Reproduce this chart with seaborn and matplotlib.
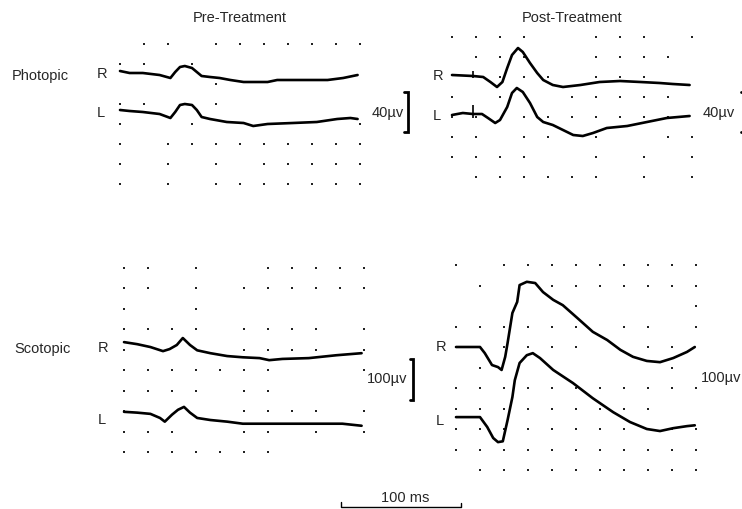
import matplotlib
matplotlib.use("Agg")
import matplotlib.pyplot as plt
import numpy as np
import pandas as pd
import seaborn as sns

# ---- data: ERG traces, time in ms, amplitude in µV relative to pre-stimulus baseline ----
pre_phot_r_t = [0, 8, 19, 33, 42, 46, 50, 54, 60, 64, 68, 75, 83, 92, 103, 111, 123, 131, 144, 158, 173, 186, 198]
pre_phot_r_uv = [0, -2, -2, -4, -7, -1, 4, 5, 3, -1, -5, -6, -7, -9, -11, -11, -11, -9, -9, -9, -9, -7, -4]
pre_phot_l_t = [0, 8, 19, 33, 42, 46, 50, 54, 60, 64, 68, 75, 89, 103, 111, 123, 144, 164, 181, 192, 198]
pre_phot_l_uv = [0, -1, -2, -4, -8, -2, 5, 6, 5, 0, -7, -9, -12, -13, -16, -14, -13, -12, -9, -8, -9]

post_phot_r_t = [0, 17.5, 26, 32, 37.5, 42, 46, 50, 55, 59, 65, 71, 76, 84, 92.5, 107, 123, 140, 157, 173, 184, 198]
post_phot_r_uv = [0, -1, -2, -7, -12, -7, 7, 20, 27, 23, 12, 2, -5, -10, -12, -10, -7, -6, -7, -8, -9, -10]
post_phot_l_t = [0, 9, 17.5, 25, 30, 36, 40, 46, 50, 54, 59, 65, 71, 76, 84, 92.5, 101, 109, 117.5, 129, 146, 162.5, 179, 198]
post_phot_l_uv = [0, 2, 1, 1, -3, -8, -5, 8, 22, 27, 23, 12, -2, -7, -10, -15, -20, -21, -18, -13, -11, -7, -3, -1]

pre_scot_r_t = [0, 11, 22, 32.5, 38, 44, 49, 55, 61, 72, 86, 99, 113, 121, 132, 154, 177, 198]
pre_scot_r_uv = [0, -5, -12, -22, -17, -7, 10, -7, -20, -27, -34, -37, -39, -44, -41, -39, -32, -27]
pre_scot_l_t = [0, 11, 22, 30, 34, 40, 45, 50, 55, 61, 72, 86, 99, 127, 155, 182, 198]
pre_scot_l_uv = [0, -2, -5, -15, -24, -7, 5, 12, -2, -15, -20, -24, -29, -29, -29, -29, -34]

post_scot_r_t = [0, 20, 24, 30, 35, 38, 41, 43, 47, 51, 53, 59, 66, 72.5, 81, 89, 101, 114, 126, 137, 147.5, 159, 170, 181, 192.5, 199]
post_scot_r_uv = [0, 0, -15, -44, -49, -56, -24, 10, 83, 110, 151, 159, 156, 134, 115, 102, 71, 37, 17, -7, -24, -34, -37, -27, -12, 0]
post_scot_l_t = [0, 20, 26, 31, 35, 39, 43, 47, 49, 53, 59, 64, 70, 81, 97.5, 114, 131, 145, 159, 170, 181, 192.5, 199]
post_scot_l_uv = [0, 0, -24, -51, -61, -59, -7, 49, 90, 132, 151, 156, 144, 115, 83, 46, 12, -12, -29, -34, -27, -22, -20]

# dot grid of the recorder paper (x = present), top row first
pre_phot_dots = [".xx.xxxxxxx", "xx.x.......", "....x......", "xx..x......",
                 "x..x......x", "x.xxxxxxxxx", "x.x.x.xxxxx", "x.x.xxxxxxx"]
post_phot_dots = ["xxxx..xxx.x", ".xxx..xxxx.", "..xxx.xxx..", "x.x..xxxxx.",
                  "xx.xxxxxxx.", "xx.xx.x..xx", "xxxx..x.x.x", ".xxxxxx.x.x"]
pre_scot_dots = ["xx.x..xxxxx", "xx.x.xxxxxx", "x..x.......", "xxxx.xxxx.x", "x....xxxx.x",
                 "xxxxxxx...x", "xxxx.xx....", "x....xxxx.x", "xxx..xx.x.x", "xxxxxxx...."]
post_scot_dots = ["x.xxxxxxxxx", ".x..xxxxxxx", "..........x", "xxxxxx.xx.x", "..xxxx..xx.",
                  ".x.......x.", "xxxxxxxxxxx", "xxxxxxxxx..", "xxxxxxxxxxx", "xxxxxxxxxxx",
                  ".xxxxxxxxxx"]

phot_scale_uv = 40
scot_scale_uv = 100
time_scale_ms = 100

# ---- layout (pixels of the 742x509 output) ----
W, H = 742, 509
PX_MS = 1.2
XLIM = (-15, 215)
GRID_MS = 20

sns.set_style("white")
plt.rcParams["font.family"] = ["Liberation Sans", "DejaVu Sans"]
FS = 10.5


def fxy(x, y):
    return x / W, 1 - y / H


def make_panel(fig, x0, y0, uv_px, step, dots, traces, offsets):
    nrows = len(dots)
    pad = 12
    top_uv = (nrows - 1) * step
    left = (x0 + XLIM[0] * PX_MS) / W
    width = (XLIM[1] - XLIM[0]) * PX_MS / W
    bottom = 1 - (y0 + pad) / H
    height = (top_uv * uv_px + 2 * pad) / H
    ax = fig.add_axes([left, bottom, width, height])
    ax.set_xlim(XLIM)
    ax.set_ylim(-pad / uv_px, top_uv + pad / uv_px)
    ax.axis("off")

    pts = [(c * GRID_MS, (nrows - 1 - r) * step)
           for r, row in enumerate(dots) for c, ch in enumerate(row) if ch == "x"]
    grid = pd.DataFrame(pts, columns=["t", "uv"])
    sns.scatterplot(data=grid, x="t", y="uv", ax=ax, marker="s", s=3.5,
                    color="#222222", linewidth=0, legend=False)

    for (t, uv), off in zip(traces, offsets):
        sns.lineplot(x=np.array(t), y=np.array(uv) + off, ax=ax, color="black",
                     lw=1.9, estimator=None, sort=False)
    return ax


fig = plt.figure(figsize=(W / 100, H / 100), dpi=100)

ax_pp = make_panel(fig, 120, 184, 1.0, 20, pre_phot_dots,
                   [(pre_phot_r_t, pre_phot_r_uv), (pre_phot_l_t, pre_phot_l_uv)], [113, 74])
ax_qp = make_panel(fig, 452, 177, 1.0, 20, post_phot_dots,
                   [(post_phot_r_t, post_phot_r_uv), (post_phot_l_t, post_phot_l_uv)], [102, 62])
ax_ps = make_panel(fig, 124, 452, 0.41, 50, pre_scot_dots,
                   [(pre_scot_r_t, pre_scot_r_uv), (pre_scot_l_t, pre_scot_l_uv)], [268, 98])
ax_qs = make_panel(fig, 456, 470, 0.41, 50, post_scot_dots,
                   [(post_scot_r_t, post_scot_r_uv), (post_scot_l_t, post_scot_l_uv)], [300, 129])

# stimulus markers on post-treatment photopic traces
ax_qp.vlines(17.5, 102 - 3, 102 + 4, color="black", lw=1.2)
ax_qp.vlines(17.5, 62 - 3, 62 + 10, color="black", lw=1.2)


def bracket(ax, t, lo, span, serif, right=True):
    sx = t - serif if right else t + serif
    ax.plot([sx, t, t, sx], [lo, lo, lo + span, lo + span], color="black",
            lw=2.0, clip_on=False, solid_joinstyle="miter")


# amplitude calibration brackets
bracket(ax_pp, 240, 52, phot_scale_uv, 3)
bracket(ax_qp, 245, 45, phot_scale_uv, 4)
bracket(ax_ps, 241, 127, scot_scale_uv, 3)
bracket(ax_qs, 245, 171, scot_scale_uv, 4)

# time calibration bar
tb0 = 181
ax_ps.plot([tb0, tb0, tb0 + time_scale_ms, tb0 + time_scale_ms],
           [-122, -134, -134, -124], color="black", lw=1.0, clip_on=False)

# ---- text ----
fig.text(*fxy(240, 18), "Pre-Treatment", ha="center", va="center", fontsize=FS)
fig.text(*fxy(572, 18), "Post-Treatment", ha="center", va="center", fontsize=FS)
fig.text(*fxy(12, 76), "Photopic", ha="left", va="center", fontsize=FS)
fig.text(*fxy(14, 349), "Scotopic", ha="left", va="center", fontsize=FS)

for x, y, s in [(107, 74, "R"), (105, 113, "L"), (443, 76, "R"), (441, 116, "L"),
                (108, 348, "R"), (106, 420, "L"), (446, 347, "R"), (444, 421, "L")]:
    fig.text(*fxy(x, y), s, ha="right", va="center", fontsize=FS)

fig.text(*fxy(404, 113), "40µv", ha="right", va="center", fontsize=FS)
fig.text(*fxy(703, 113), "40µv", ha="left", va="center", fontsize=FS)
fig.text(*fxy(407, 379), "100µv", ha="right", va="center", fontsize=FS)
fig.text(*fxy(701, 378), "100µv", ha="left", va="center", fontsize=FS)
fig.text(*fxy(405, 498), "100 ms", ha="center", va="center", fontsize=FS)

fig.savefig("out.png", dpi=100)
